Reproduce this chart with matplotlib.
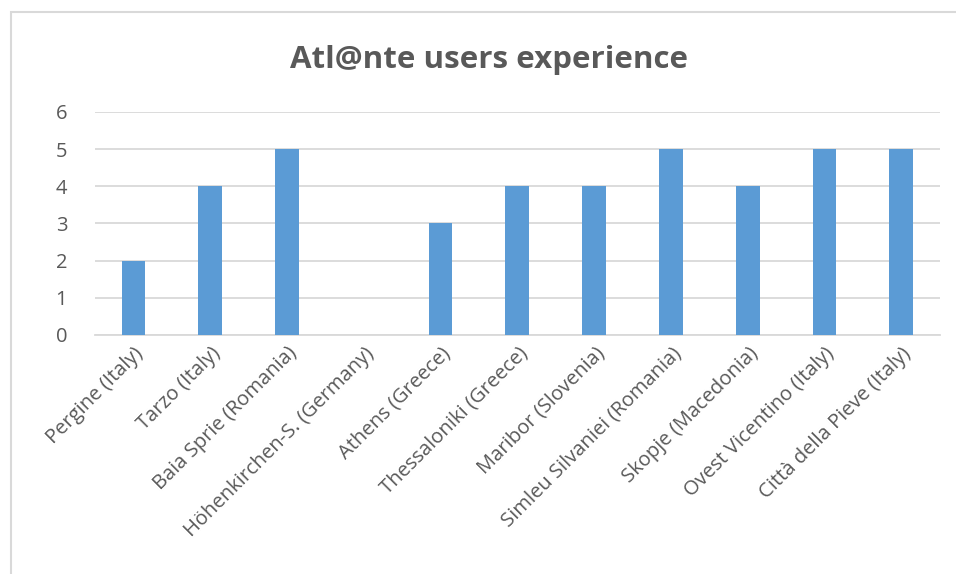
import matplotlib.pyplot as plt
from matplotlib.patches import Rectangle

places = ["Pergine (Italy)", "Tarzo (Italy)", "Baia Sprie (Romania)",
          "Höhenkirchen-S. (Germany)", "Athens (Greece)", "Thessaloniki (Greece)",
          "Maribor (Slovenia)", "Simleu Silvaniei (Romania)", "Skopje (Macedonia)",
          "Ovest Vicentino (Italy)", "Città della Pieve (Italy)"]
scores = [2, 4, 5, 0, 3, 4, 4, 5, 4, 5, 5]

plt.rcParams['font.family'] = ['Open Sans', 'DejaVu Sans']

fig = plt.figure(figsize=(9.56, 5.74), dpi=100)
fig.patches.append(Rectangle((0.0115, -0.05), 1.2, 1.029, transform=fig.transFigure,
                             fill=False, edgecolor='#d9d9d9', linewidth=1.5))
ax = fig.add_axes([0.0994, 0.4164, 0.8836, 0.3886])

x = range(len(places))
ax.bar(x, scores, width=0.31, color='#5b9bd5', zorder=3)
ax.set_xlim(-0.5, len(places) - 0.5)
ax.set_ylim(0, 6)
ax.set_yticks(range(0, 7))
ax.yaxis.grid(True, color='#d9d9d9', linewidth=1.3, zorder=0)
ax.set_xticks(list(x))
ax.set_xticklabels(places, rotation=45, ha='right', va='top', rotation_mode='anchor')
ax.tick_params(length=0, labelsize=14.5, colors='#595959', pad=6)
ax.tick_params(axis='y', pad=20)
for s in ['top', 'right', 'left']:
    ax.spines[s].set_visible(False)
ax.spines['bottom'].set_color('#d9d9d9')
ax.spines['bottom'].set_linewidth(1.3)

fig.text(0.512, 0.895, "Atl@nte users experience", ha='center', va='center',
         fontsize=22.5, fontweight='bold', color='#595959')

plt.savefig("out.png", dpi=100)
